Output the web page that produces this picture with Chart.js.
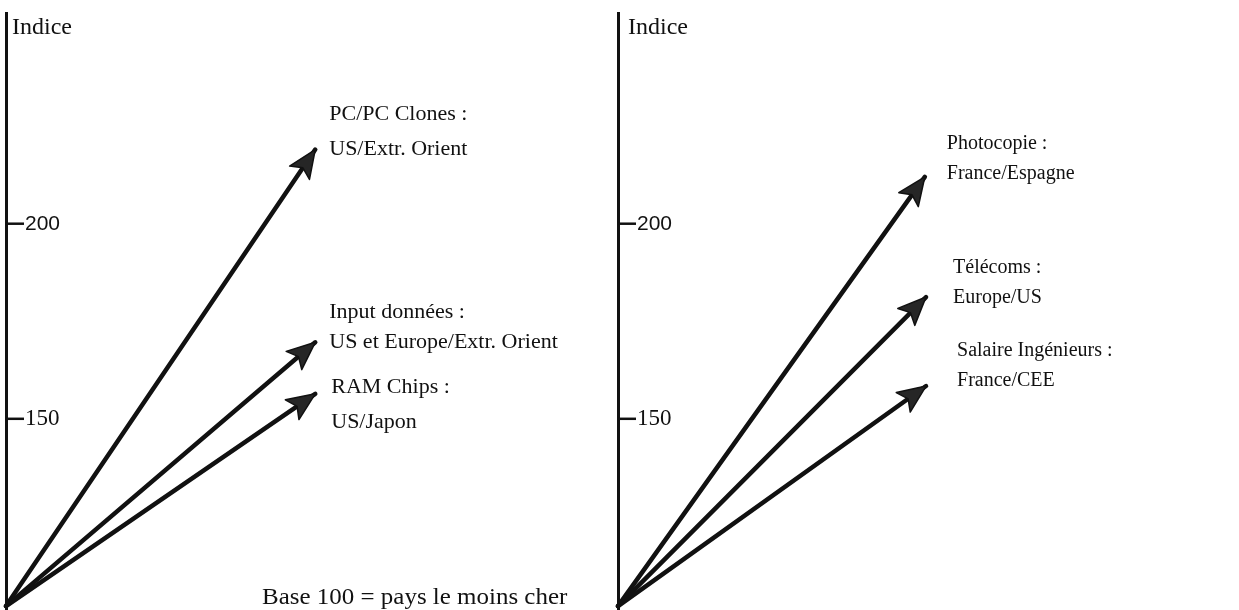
<!DOCTYPE html>
<html><head><meta charset="utf-8">
<script src="https://cdn.jsdelivr.net/npm/chart.js@4/dist/chart.umd.min.js"></script>
<style>
html,body{margin:0;padding:0;background:#fff;}
#wrap{position:relative;width:1239px;height:610px;overflow:hidden;background:#fff;}
.panel{position:absolute;top:0;height:610px;width:610px;}
</style></head><body>
<div id="wrap">
<div class="panel" style="left:0"><canvas id="c1"></canvas></div>
<div class="panel" style="left:612px"><canvas id="c2"></canvas></div>
</div>
<script>
// ---- data ----
const yTickValues = [150, 200];
const axisTitle = "Indice";
const originIndex = 102;
const leftSeries = ["PC/PC Clones", "Input données", "RAM Chips"];
const leftLabels = [["PC/PC Clones :", "US/Extr. Orient"], ["Input données :", "US et Europe/Extr. Orient"], ["RAM Chips :", "US/Japon"]];
const leftEndX = [0.512, 0.512, 0.512];
const leftEndY = [219, 169.6, 156.4];
const rightSeries = ["Photocopie", "Télécoms", "Salaire Ingénieurs"];
const rightLabels = [["Photocopie :", "France/Espagne"], ["Télécoms :", "Europe/US"], ["Salaire Ingénieurs :", "France/CEE"]];
const rightEndX = [0.508, 0.510, 0.510];
const rightEndY = [212, 181.2, 158.4];
const footnote = "Base 100 = pays le moins cher";

// ---- styling ----
const SERIF = "'Liberation Serif', 'DejaVu Serif', serif";
const SANS = "'Liberation Sans', Arial, sans-serif";
const INK = "#111111";

const arrowPlugin = {
  id: 'arrows',
  afterDatasetsDraw(chart) {
    const ctx = chart.ctx;
    chart.data.datasets.forEach((ds, i) => {
      const meta = chart.getDatasetMeta(i);
      const p0 = meta.data[0], p1 = meta.data[meta.data.length - 1];
      const ang = Math.atan2(p1.y - p0.y, p1.x - p0.x);
      const L = 28, W = 12, N = 6;
      const bx = p1.x - L * Math.cos(ang), by = p1.y - L * Math.sin(ang);
      const nx = p1.x - (L - N) * Math.cos(ang), ny = p1.y - (L - N) * Math.sin(ang);
      ctx.save();
      ctx.beginPath();
      ctx.moveTo(p1.x, p1.y);
      ctx.lineTo(bx + W * Math.sin(ang), by - W * Math.cos(ang));
      ctx.lineTo(nx, ny);
      ctx.lineTo(bx - W * Math.sin(ang), by + W * Math.cos(ang));
      ctx.closePath();
      ctx.fillStyle = "#262626";
      ctx.fill();
      ctx.lineWidth = 1.5;
      ctx.strokeStyle = INK;
      ctx.lineJoin = 'round';
      ctx.stroke();
      ctx.restore();
    });
  }
};

const decorPlugin = {
  id: 'decor',
  afterDraw(chart) {
    const o = chart.options.plugins.decor;
    const ctx = chart.ctx;
    const ys = chart.scales.y, xs = chart.scales.x;
    const ax = chart.chartArea.left;
    ctx.save();
    // tick marks (pointing right, into the plot)
    ctx.strokeStyle = INK; ctx.lineWidth = 2.5;
    yTickValues.forEach(v => {
      const py = ys.getPixelForValue(v);
      ctx.beginPath(); ctx.moveTo(ax, py); ctx.lineTo(ax + 18, py); ctx.stroke();
    });
    // axis title
    ctx.fillStyle = INK;
    ctx.textBaseline = 'alphabetic';
    ctx.textAlign = 'left';
    ctx.font = "24px " + SERIF;
    ctx.fillText(axisTitle, ax + o.titleDx, 34);
    // series labels
    ctx.font = o.labelSize + "px " + SERIF;
    chart.data.datasets.forEach((ds, i) => {
      const meta = chart.getDatasetMeta(i);
      const tip = meta.data[meta.data.length - 1];
      const lines = o.labels[i];
      const off = o.offsets[i];
      ctx.fillText(lines[0], tip.x + off[0], tip.y + off[1]);
      ctx.fillText(lines[1], tip.x + off[0], tip.y + off[2]);
    });
    if (o.footnote) {
      ctx.font = "24px " + SERIF;
      ctx.save();
      ctx.translate(xs.getPixelForValue(o.footnote.x), 604);
      ctx.scale(1.04, 1);
      ctx.fillText(o.footnote.text, 0, 0);
      ctx.restore();
    }
    ctx.restore();
  }
};

function makeChart(id, series, endX, endY, labels, offsets, opts) {
  const datasets = series.map((name, i) => ({
    label: name,
    data: [{x: 0, y: originIndex}, {x: endX[i], y: endY[i]}],
    borderColor: INK,
    borderWidth: 4.5,
    pointRadius: 0,
    borderCapStyle: 'round',
    clip: false,
    tension: 0
  }));
  return new Chart(document.getElementById(id), {
    type: 'line',
    data: { datasets },
    options: {
      responsive: true,
      maintainAspectRatio: false,
      animation: false,
      events: [],
      layout: { padding: { top: 13, left: 0, right: 0, bottom: 0 } },
      scales: {
        x: { type: 'linear', min: 0, max: 1, display: false },
        y: {
          type: 'linear', min: 101, max: 254,
          afterBuildTicks: s => { s.ticks = yTickValues.map(v => ({ value: v })); },
          afterFit: s => { s.width = 6; s.paddingTop = 0; s.paddingBottom = 0; },
          grid: { display: false },
          border: { display: true, color: INK, width: 3 },
          ticks: {
            mirror: true,
            padding: 19,
            color: INK,
            font: (c) => (c.tick && c.tick.value === 200)
              ? { family: SANS, size: 21 }
              : { family: SERIF, size: 23 }
          }
        }
      },
      plugins: {
        legend: { display: false },
        tooltip: { enabled: false },
        decor: Object.assign({ labels, offsets }, opts)
      }
    },
    plugins: [arrowPlugin, decorPlugin]
  });
}

makeChart('c1', leftSeries, leftEndX, leftEndY, leftLabels,
  [[14, -30, 5], [14, -24, 6], [16, -1, 34]],
  { titleDx: 6, labelSize: 22, footnote: { x: 0.424, text: footnote } });
makeChart('c2', rightSeries, rightEndX, rightEndY, rightLabels,
  [[22, -28, 2], [27, -24, 6], [31, -30, 0]],
  { titleDx: 10, labelSize: 20, footnote: null });
</script>
</body></html>
